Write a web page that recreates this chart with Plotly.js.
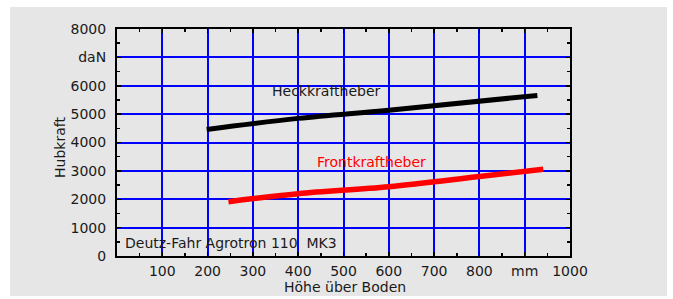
<!DOCTYPE html>
<html>
<head>
<meta charset="utf-8">
<script src="https://cdn.plot.ly/plotly-3.0.1.min.js"></script>
<style>
html,body{margin:0;padding:0;background:#fff;}
#chart{width:673px;height:299px;}
</style>
</head>
<body>
<div id="chart"></div>
<script>
// Data
const heckX = [198, 400, 600, 928];
const heckY = [4460, 4850, 5140, 5660];
const frontX = [246, 400, 600, 800, 941];
const frontY = [1915, 2195, 2440, 2800, 3055];

const xTickVals = [100, 200, 300, 400, 500, 600, 700, 800, 900, 1000];
const xTickText = ['100', '200', '300', '400', '500', '600', '700', '800', 'mm', '1000'];
const yTickVals = [0, 1000, 2000, 3000, 4000, 5000, 6000, 7000, 8000];
const yTickText = ['0', '1000', '2000', '3000', '4000', '5000', '6000', 'daN', '8000'];

const seriesNames = ['Heckkraftheber', 'Frontkraftheber'];
const chartNote = 'Deutz-Fahr Agrotron 110  MK3';
const xTitle = 'Höhe über Boden';
const yTitle = 'Hubkraft';

const FONT = 'DejaVu Sans, Arial, sans-serif';
const TXT = '#1a1a1a';
const GRAY = '#e6e6e6';

const traces = [
  {x: heckX, y: heckY, mode: 'lines', name: seriesNames[0],
   line: {color: '#000000', width: 5, shape: 'spline'}, hoverinfo: 'skip'},
  {x: frontX, y: frontY, mode: 'lines', name: seriesNames[1],
   line: {color: '#ff0000', width: 5.5, shape: 'spline'}, hoverinfo: 'skip'}
];

const axisCommon = {
  showline: true, linecolor: '#000', linewidth: 2, mirror: 'allticks',
  ticks: 'inside', ticklen: 4, tickcolor: '#000', tickwidth: 1.5,
  showgrid: true, gridcolor: '#0000ff', gridwidth: 2,
  zeroline: false, tickfont: {family: FONT, size: 14, color: TXT},
  tickmode: 'array', fixedrange: true
};

const layout = {
  width: 673, height: 299,
  margin: {l: 117, r: 103, t: 29, b: 43, pad: 0},
  paper_bgcolor: '#ffffff',
  plot_bgcolor: GRAY,
  showlegend: false,
  font: {family: FONT, size: 14, color: TXT},
  xaxis: Object.assign({}, axisCommon, {
    range: [0, 1000], tickvals: xTickVals, ticktext: xTickText,
    ticklabelstandoff: 1,
    minor: {tickmode: 'linear', tick0: 0, dtick: 50, ticks: 'inside', ticklen: 3, tickcolor: '#000', showgrid: false}
  }),
  yaxis: Object.assign({}, axisCommon, {
    range: [0, 8000], tickvals: yTickVals, ticktext: yTickText,
    ticklabelstandoff: 6,
    minor: {tickmode: 'linear', tick0: 0, dtick: 500, ticks: 'inside', ticklen: 3, tickcolor: '#000', showgrid: false}
  }),
  shapes: [
    {type: 'rect', xref: 'paper', yref: 'paper', layer: 'below',
     x0: (10 - 117) / 453, x1: (667 - 117) / 453,
     y0: (256 - 296) / 227, y1: (256 - 7) / 227,
     fillcolor: GRAY, line: {width: 0}}
  ],
  annotations: [
    {text: seriesNames[0], x: 338, y: 5815, xref: 'x', yref: 'y', xanchor: 'left', yanchor: 'middle',
     showarrow: false, font: {family: FONT, size: 14, color: TXT}},
    {text: seriesNames[1], x: 437, y: 3313, xref: 'x', yref: 'y', xanchor: 'left', yanchor: 'middle',
     showarrow: false, font: {family: FONT, size: 14, color: '#ff0000'}},
    {text: chartNote, x: 13, y: 448, xref: 'x', yref: 'y', xanchor: 'left', yanchor: 'middle',
     showarrow: false, font: {family: FONT, size: 14, color: TXT}},
    {text: xTitle, x: (345 - 117) / 453, y: (256 - 287) / 227, xref: 'paper', yref: 'paper',
     xanchor: 'center', yanchor: 'middle', showarrow: false, font: {family: FONT, size: 14, color: TXT}},
    {text: yTitle, x: (60 - 117) / 453, y: (256 - 148) / 227, xref: 'paper', yref: 'paper', textangle: -90,
     xanchor: 'center', yanchor: 'middle', showarrow: false, font: {family: FONT, size: 14, color: TXT}}
  ]
};

Plotly.newPlot('chart', traces, layout, {staticPlot: true, displayModeBar: false});
</script>
</body>
</html>
